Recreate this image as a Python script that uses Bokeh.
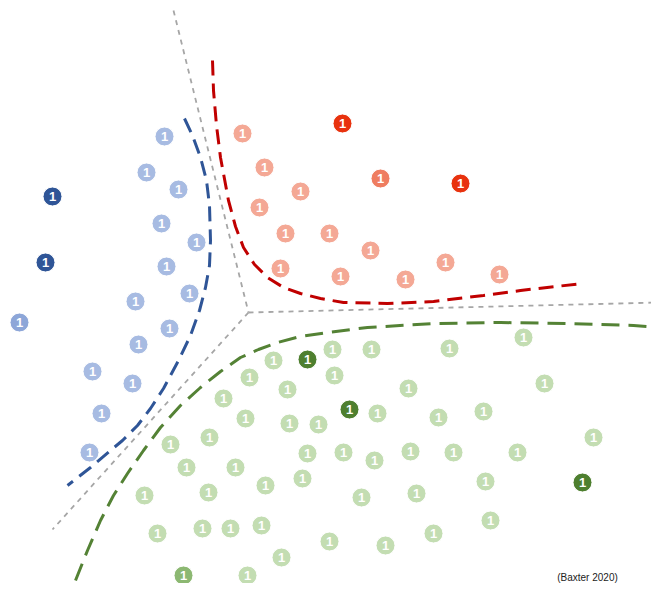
from bokeh.plotting import figure
from bokeh.models import Range1d, ColumnDataSource
from bokeh.core.properties import value
from bokeh.embed import file_html
from bokeh.resources import INLINE

# Points (x, y in picture units, y downward)
blue_dark_x = [52, 45]
blue_dark_y = [196, 262]
blue_mid_x = [19]
blue_mid_y = [322]
blue_light_x = [164, 146, 178, 161, 196, 166, 189, 135, 169, 138, 92, 132, 101, 89]
blue_light_y = [136, 172, 189, 223, 242, 266, 293, 301, 328, 344, 371, 383, 413, 452]

red_dark_x = [342, 460]
red_dark_y = [123, 183]
red_mid_x = [380]
red_mid_y = [178]
red_light_x = [242, 264, 300, 259, 285, 329, 370, 280, 340, 405, 445, 499]
red_light_y = [133, 167, 191, 207, 233, 233, 250, 268, 276, 279, 262, 274]

green_dark_x = [307, 349, 582]
green_dark_y = [359, 409, 482]
green_mid_x = [183]
green_mid_y = [575]
green_light_x = [273, 249, 287, 223, 245, 289, 318, 209, 170, 307, 186, 235, 265, 302,
                 144, 208, 157, 202, 230, 261, 281, 247,
                 332, 371, 449, 523, 334, 408, 544, 377, 438, 483, 343, 374, 410, 453,
                 517, 593, 485, 361, 416, 490, 433, 329, 385]
green_light_y = [360, 377, 389, 398, 418, 423, 424, 437, 444, 453, 467, 467, 485, 478,
                 495, 492, 533, 528, 528, 525, 557, 575,
                 349, 349, 348, 337, 375, 388, 383, 413, 417, 411, 452, 460, 451, 452,
                 452, 437, 481, 497, 493, 520, 533, 541, 545]

# Boundaries
div_top_x = [173, 248]
div_top_y = [10, 312]
div_right_x = [248, 659]
div_right_y = [312, 302]
div_left_x = [248, 52]
div_left_y = [312, 529]

red_curve_x = [212, 213, 216, 220, 228, 235, 243, 254, 267, 283, 300, 320, 343, 387, 433, 483, 520, 582]
red_curve_y = [60, 90, 125, 157, 200, 226, 247, 264, 277, 287, 293, 298, 302, 303, 301, 295, 290, 283]

blue_curve_x = [184, 192, 200, 206, 209, 210, 209, 205, 199, 190, 178, 163, 150, 137, 122, 110, 90, 67]
blue_curve_y = [118, 135, 157, 180, 205, 240, 265, 287, 310, 335, 360, 388, 408, 425, 440, 450, 467, 485]

green_curve_x = [75, 87, 100, 113, 127, 143, 160, 180, 200, 220, 240, 258, 277, 300, 327, 367, 433, 500, 567, 633, 659]
green_curve_y = [580, 550, 520, 495, 473, 450, 427, 405, 387, 371, 357, 349, 342, 336, 332, 327, 323, 322, 323, 325, 327]

citation = "(Baxter 2020)"

W, H = 651, 583
p = figure(width=W, height=H, output_backend="svg", toolbar_location=None,
           x_range=Range1d(0, W), y_range=Range1d(H, 0),
           min_border=0, outline_line_color=None, background_fill_color="white",
           border_fill_color="white")
p.axis.visible = False
p.grid.visible = False

gray = "#A6A6A6"
for xs, ys in [(div_top_x, div_top_y), (div_right_x, div_right_y), (div_left_x, div_left_y)]:
    p.line(xs, ys, line_color=gray, line_width=1.8, line_dash="5 5")

p.line(red_curve_x, red_curve_y, line_color="#C00000", line_width=3, line_dash="15 8")
p.line(blue_curve_x, blue_curve_y, line_color="#2F5597", line_width=3, line_dash="15 8")
p.line(green_curve_x, green_curve_y, line_color="#548235", line_width=3, line_dash="18 9")

groups = [
    (blue_light_x, blue_light_y, "#A7BBE2"),
    (blue_mid_x, blue_mid_y, "#8DA6D8"),
    (blue_dark_x, blue_dark_y, "#2F5597"),
    (red_light_x, red_light_y, "#F4A895"),
    (red_mid_x, red_mid_y, "#EF7D60"),
    (red_dark_x, red_dark_y, "#E8320E"),
    (green_light_x, green_light_y, "#C3DDB2"),
    (green_mid_x, green_mid_y, "#8CB872"),
    (green_dark_x, green_dark_y, "#4E7F2F"),
]
for xs, ys, col in groups:
    src = ColumnDataSource(dict(x=xs, y=ys, t=["1"] * len(xs)))
    p.scatter("x", "y", source=src, size=19, fill_color=col, line_color="white",
              line_width=1)
    p.text("x", "y", text="t", source=src, text_color="white",
           text_font=value("Liberation Sans"), text_font_size="13px",
           text_font_style="bold", text_align="center", text_baseline="middle")

p.text([587], [582], text=[citation], text_color="#222222",
       text_font=value("Liberation Sans"), text_font_size="10px",
       text_align="center", text_baseline="bottom")

open("out.html", "w").write(file_html(p, INLINE))
